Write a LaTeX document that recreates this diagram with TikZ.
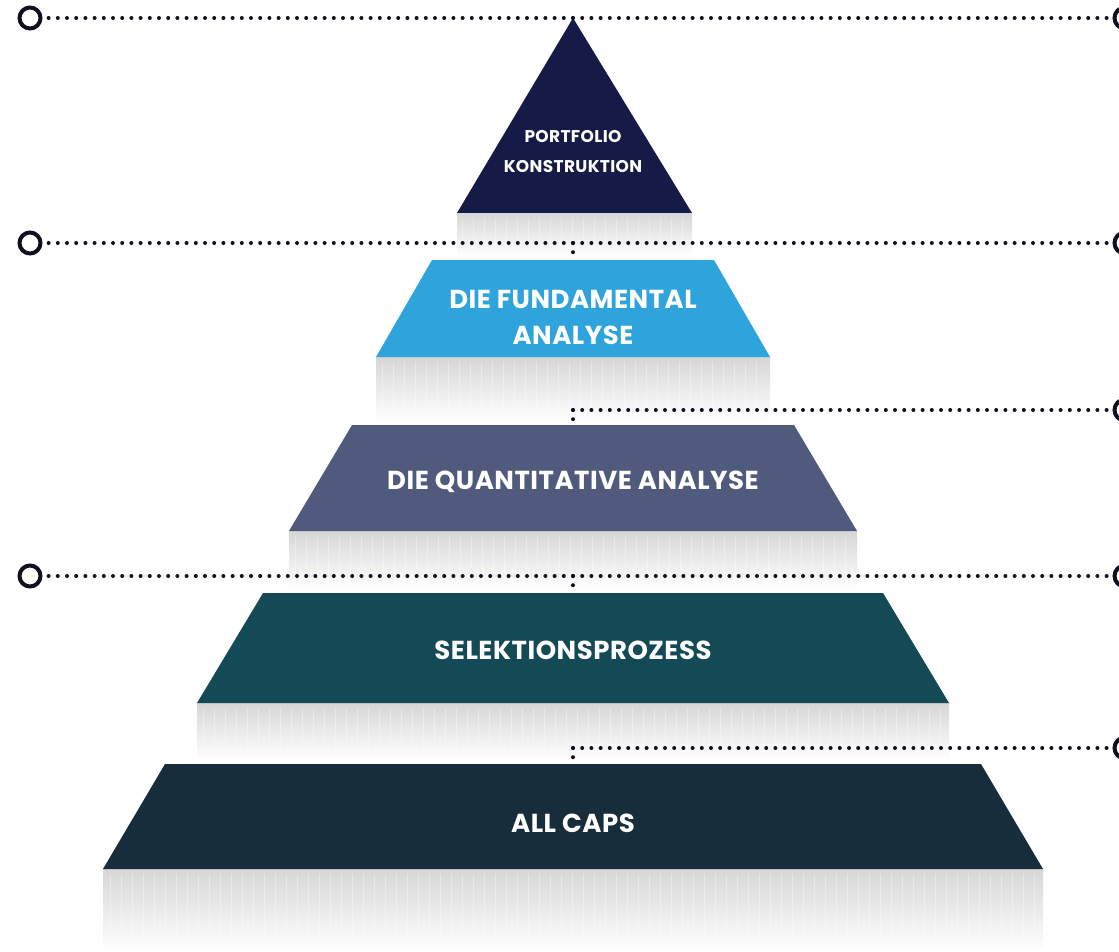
\documentclass[tikz,border=0pt]{standalone}
\usepackage{fontspec}
\newfontfamily\lab{Poppins}[LetterSpace=2]
\definecolor{navy}{HTML}{151A46}
\definecolor{sky}{HTML}{2FA3DB}
\definecolor{slate}{HTML}{505A7D}
\definecolor{teal}{HTML}{144A55}
\definecolor{deep}{HTML}{172D3B}
\definecolor{dotc}{HTML}{10101F}
\begin{document}
\begin{tikzpicture}[x=1pt,y=-1pt,
  dotline/.style={draw=dotc,line width=4pt,line cap=round,dash pattern=on 0pt off 9.2pt},
  ring/.style={circle,draw=dotc,line width=4pt,minimum size=21pt,inner sep=0pt,fill=white},
  lbl/.style={text=white,font=\lab\bfseries\fontsize{26}{36}\selectfont,align=center},
  slbl/.style={text=white,font=\lab\bfseries\fontsize{17}{30}\selectfont,align=center},
  band/.style={top color=gray!32,bottom color=white,draw=none},
  texture/.style={draw=white,opacity=0.35,line width=1pt}]
\useasboundingbox (0,0) rectangle (1119,952);
% grey bands
\shade[band] (457,213) rectangle (692,256);
\shade[band] (376,357) rectangle (770,421);
\shade[band] (289,531) rectangle (857,589);
\shade[band] (197,703) rectangle (949,760);
\shade[band] (103,869) rectangle (1043,952);
\foreach \a/\b/\t/\u in {462/688/218/252,382/764/362/416,295/851/536/584,203/943/708/755,110/1036/874/945}{
  \pgfmathsetmacro{\n}{int((\b-\a)/11)}
  \foreach \i in {0,...,\n}{
    \pgfmathsetmacro{\xx}{\a+11*\i}
    \draw[texture] (\xx,\t) -- (\xx,\u);
  }
}
% pyramid levels
\fill[navy] (573,18) -- (692,213) -- (457,213) -- cycle;
\fill[sky] (432,260) -- (714,260) -- (770,357) -- (376,357) -- cycle;
\fill[slate] (352,425) -- (794,425) -- (857,531) -- (289,531) -- cycle;
\fill[teal] (263,593) -- (883,593) -- (949,703) -- (197,703) -- cycle;
\fill[deep] (165,764) -- (981,764) -- (1043,869) -- (103,869) -- cycle;
% labels
\node[slbl] (t1) at (573,152) {PORTFOLIO\\KONSTRUKTION};
\node[lbl] (t2) at (573,317) {DIE FUNDAMENTAL\\ANALYSE};
\node[lbl] (t3) at (573,482) {DIE QUANTITATIVE ANALYSE};
\node[lbl] (t4) at (573,650) {SELEKTIONSPROZESS};
\node[lbl] (t5) at (573,823) {ALL CAPS};
% connectors
\node[ring] (L1) at (30,18) {};
\node[ring] (R1) at (1125,18) {};
\node[ring] (L2) at (30,243) {};
\node[ring] (R2) at (1125,243) {};
\node[ring] (R3) at (1125,410) {};
\node[ring] (L4) at (30,576) {};
\node[ring] (R4) at (1125,576) {};
\node[ring] (R5) at (1125,748) {};
\coordinate (J1) at (573,18);
\coordinate (J2) at (573,243);
\coordinate (J3) at (573,410);
\coordinate (J4) at (573,576);
\coordinate (J5) at (573,748);
\coordinate (V2) at (573,254);
\coordinate (V3) at (573,421);
\coordinate (V4) at (573,587);
\coordinate (V5) at (573,759);
\draw[dotline] (J1) -- (L1);
\draw[dotline] (J1) -- (R1);
\draw[dotline] (J2) -- (L2);
\draw[dotline] (J2) -- (R2);
\draw[dotline] (J2) -- (V2);
\draw[dotline] (J3) -- (R3);
\draw[dotline] (J3) -- (V3);
\draw[dotline] (J4) -- (L4);
\draw[dotline] (J4) -- (R4);
\draw[dotline] (J4) -- (V4);
\draw[dotline] (J5) -- (R5);
\draw[dotline] (J5) -- (V5);
\end{tikzpicture}
\end{document}
